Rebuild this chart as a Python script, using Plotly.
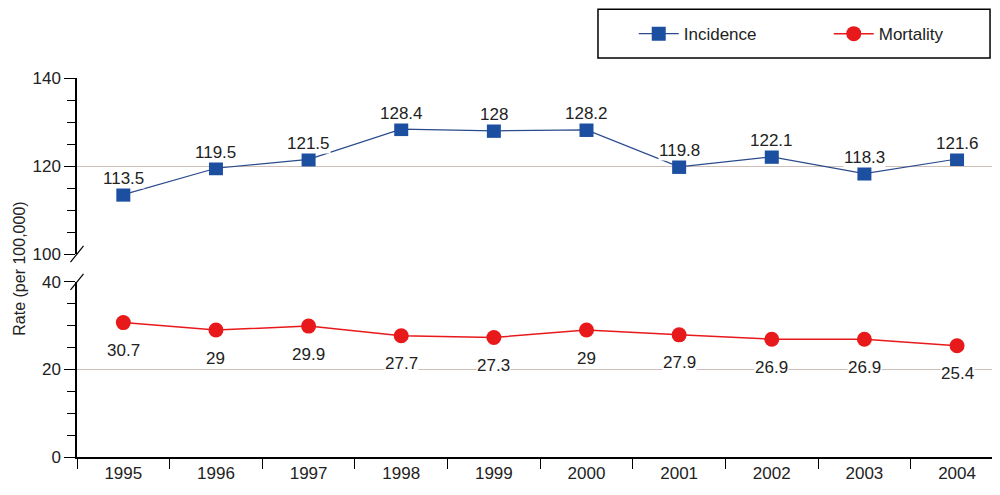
import plotly.graph_objects as go

years = ["1995", "1996", "1997", "1998", "1999", "2000", "2001", "2002", "2003", "2004"]
incidence = [113.5, 119.5, 121.5, 128.4, 128, 128.2, 119.8, 122.1, 118.3, 121.6]
mortality = [30.7, 29, 29.9, 27.7, 27.3, 29, 27.9, 26.9, 26.9, 25.4]

FONT = "Liberation Sans, Arial, sans-serif"
GRID = "#cfbfb8"
BLUE = "#1c4fa0"
RED = "#e8191b"
TXT = dict(size=17, color="#222", family=FONT)

fig = go.Figure()
fig.add_trace(go.Scatter(
    x=years, y=incidence, name="Incidence", mode="lines+markers",
    xaxis="x", yaxis="y2",
    line=dict(color="#2a4a8c", width=1.2),
    marker=dict(symbol="square", size=14, color=BLUE)))
fig.add_trace(go.Scatter(
    x=years, y=mortality, name="Mortality", mode="lines+markers",
    xaxis="x", yaxis="y",
    line=dict(color=RED, width=1.5),
    marker=dict(symbol="circle", size=15, color=RED)))

# value labels on white boxes (they cut through the grid lines);
# category axis -> position by index
for i, v in enumerate(incidence):
    fig.add_annotation(x=i, y=v, xref="x", yref="y2", text=f"{v:g}",
                       showarrow=False, yshift=16, bgcolor="white",
                       font=TXT, borderpad=0)
for i, v in enumerate(mortality):
    fig.add_annotation(x=i, y=v, xref="x", yref="y", text=f"{v:g}",
                       showarrow=False, yshift=-28, bgcolor="white",
                       font=TXT, borderpad=0)

axis_common = dict(showline=True, linecolor="black", linewidth=1.5,
                   ticks="outside", ticklen=11, tickwidth=1.2, tickcolor="black",
                   gridcolor=GRID, gridwidth=1.2, zeroline=False,
                   tickfont=TXT,
                   minor=dict(dtick=5, ticks="outside", ticklen=8,
                              tickcolor="black", showgrid=False))

# the page puts the figure 8px in from the top-left, so margins compensate
fig.update_layout(
    width=1000, height=495,
    margin=dict(l=69, r=0, t=0, b=46, autoexpand=False),
    paper_bgcolor="white", plot_bgcolor="white",
    font=dict(family=FONT, color="#222"),
    showlegend=True,
    legend=dict(orientation="h", x=0.598, y=0.982, xanchor="left", yanchor="top",
                bgcolor="rgba(0,0,0,0)", font=TXT,
                itemwidth=40, entrywidth=140, entrywidthmode="pixels"),
    xaxis=dict(type="category", range=[-0.5, 9.55], anchor="y",
               showline=True, linecolor="black", linewidth=1.5,
               ticks="outside", ticklen=10, tickwidth=1.2, tickcolor="black",
               tickson="boundaries", showgrid=False, tickfont=TXT),
    yaxis=dict(domain=[0, 0.39], range=[0, 40], tickvals=[0, 20, 40],
               anchor="x", **axis_common),
    yaxis2=dict(domain=[0.452, 0.844], range=[100, 140], tickvals=[100, 120, 140],
                anchor="x", **axis_common),
)

# legend frame
fig.add_shape(type="rect", xref="paper", yref="paper",
              x0=0.5596, x1=0.9807, y0=0.8886, y1=0.997,
              line=dict(color="black", width=1.5), fillcolor="rgba(0,0,0,0)")

# axis break marks
for yb in (0.452, 0.39):
    fig.add_shape(type="line", xref="paper", yref="paper",
                  x0=-0.007, x1=0.007, y0=yb - 0.018, y1=yb + 0.018,
                  line=dict(color="black", width=1.2))

fig.add_annotation(text="Rate (per 100,000)", xref="paper", yref="paper",
                   x=-0.062, y=0.42, xanchor="center", yanchor="middle",
                   textangle=-90, showarrow=False,
                   font=dict(size=16, color="#222", family=FONT))

fig.write_html("out.html")
